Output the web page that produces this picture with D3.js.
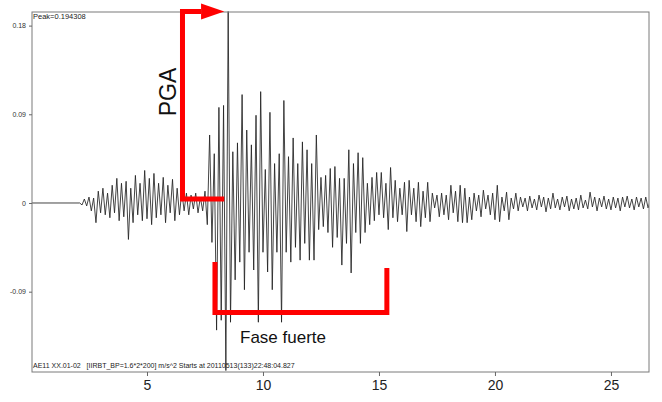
<!DOCTYPE html>
<html><head><meta charset="utf-8">
<script src="https://cdn.jsdelivr.net/npm/d3@7"></script>
<style>body{margin:0;background:#fff}svg{display:block}text{font-family:"Liberation Sans",Arial,sans-serif}</style>
</head><body><svg id="c" width="662" height="402"></svg>
<script>
// ---- data ----
const xTicks = [5, 10, 15, 20, 25];
const yTicks = [0.18, 0.09, 0, -0.09];
const yTickLabels = ["0.18", "0.09", "0", "-0.09"];
const startTime = 2.1;      // s, first sample after the quiet lead-in
const sampleStep = 0.1;     // s between read-off samples
const accel = [
  0, -.002, .004, -.003, .006, -.008, .005, -.02, .012, -.01,
  .015, -.012, .01, -.015, .018, -.01, .025, -.018, .02, -.014,
  .022, -.037, .015, -.02, .028, -.012, .02, -.018, .033, -.016,
  .025, -.022, .03, -.015, .02, -.012, .026, -.02, .018, -.01,
  .024, -.018, .015, -.012, .012, -.008, .01, -.012, .008, -.006,
  .01, -.01, .006, -.008, .012, -.022, .069, -.04, .05, -.129,
  .097, -.119, .099, -.17, .1943, -.121, .052, -.078, .061, -.06,
  .11, -.088, .074, -.05, .059, -.068, .089, -.121, .113, -.05,
  .034, -.07, .092, -.088, .04, -.05, .05, -.121, .104, -.05,
  .047, -.06, .066, -.045, .04, -.058, .062, -.041, .054, -.058,
  .04, -.058, .069, -.027, .026, -.024, .028, -.03, .035, -.045,
  .037, -.035, .025, -.063, .025, -.041, .054, -.071, .04, -.03,
  .051, -.041, .046, -.03, .02, -.022, .026, -.018, .031, -.012,
  .031, -.015, .02, -.027, .036, -.015, .023, -.019, .015, -.012,
  .021, -.029, .023, -.012, .015, -.019, .021, -.024, .012, -.015,
  .021, -.019, .01, -.005, .008, -.014, .01, -.012, .008, -.017,
  .018, -.01, .012, -.019, .018, -.02, .015, -.02, .006, -.017,
  .01, -.008, .008, -.014, .013, -.006, .008, -.012, .01, -.017,
  .018, -.019, .006, -.008, .011, -.017, .005, -.006, .01, -.008,
  .006, -.004, .005, -.008, .007, -.005, .004, -.007, .008, -.004,
  .006, -.009, .005, -.006, .010, -.005, .004, -.007, .006, -.004,
  .007, -.008, .004, -.006, .005, -.007, .008, -.005, .003, -.006,
  .011, -.004, .006, -.008, .005, -.004, .007, -.006, .004, -.007,
  .006, -.005, .005, -.008, .006, -.004, .007, -.005, .004, -.007,
  .006, -.004, .005, -.006, .006, -.005, .003, -.001
];
const peakLabel = "Peak=0.194308";
const infoLabel = "AE11 XX.01-02   [IIRBT_BP=1.6*2*200] m/s^2 Starts at 20110513(133)22:48:04.827";
const pgaLabel = "PGA";
const strongLabel = "Fase fuerte";
// annotation anchors in data units (time s, acceleration)
const pgaBracket = {t: 6.53, tTip: 8.33, tHead: 7.33, top: 0.1943, base: 0.004};
const pgaText = {t: 5.9, a: 0.1126};
const strongBracket = {t0: 7.93, t1: 15.34, bottom: -0.111, top0: -0.0599, top1: -0.066};
const strongText = {t: 9.01, a: -0.142};

// ---- layout ----
const L = 32, R = 649, T = 12, B = 372;
const svg = d3.select("#c");
const x = d3.scaleLinear().domain([0.043, 26.64]).range([L, R]);
const y = d3.scaleLinear().domain([-0.1715, 0.1938]).range([B, T]);

svg.append("clipPath").attr("id", "clip").append("rect")
  .attr("x", L).attr("y", T - 1).attr("width", R - L).attr("height", B - T + 1);

// waveform
const pts = [[x.domain()[0], 0]].concat(accel.map((v, i) => [startTime + i * sampleStep, v]));
svg.append("path").datum(pts)
  .attr("clip-path", "url(#clip)")
  .attr("fill", "none").attr("stroke", "#222").attr("stroke-width", 0.85)
  .attr("stroke-linejoin", "round")
  .attr("d", d3.line().x(d => x(d[0])).y(d => y(d[1])));

// frame
svg.append("rect").attr("x", L).attr("y", T).attr("width", R - L).attr("height", B - T)
  .attr("fill", "none").attr("stroke", "#7a7a7a").attr("stroke-width", 1);

// axes
const ya = svg.append("g").attr("transform", `translate(${L},0)`)
  .call(d3.axisLeft(y).tickValues(yTicks).tickFormat((d, i) => yTickLabels[i]).tickSize(3).tickPadding(3));
ya.select(".domain").remove();
ya.selectAll("line").attr("stroke", "#666");
ya.selectAll("text").attr("font-size", 7).attr("fill", "#333").attr("font-family", '"Liberation Sans",Arial,sans-serif');

const xa = svg.append("g").attr("transform", `translate(0,${B})`)
  .call(d3.axisBottom(x).tickValues(xTicks).tickFormat(d3.format("d")).tickSize(4).tickPadding(4));
xa.select(".domain").remove();
xa.selectAll("line").attr("stroke", "#666");
xa.selectAll("text").attr("font-size", 14).attr("fill", "#222").attr("font-family", '"Liberation Sans",Arial,sans-serif');

// labels inside plot
svg.append("text").attr("x", L + 1).attr("y", T + 6.5).attr("font-size", 7.5).attr("fill", "#222").text(peakLabel);
svg.append("text").attr("x", L + 1).attr("y", B - 4).attr("font-size", 7).attr("fill", "#222")
  .style("white-space", "pre").attr("xml:space", "preserve").text(infoLabel);

// PGA annotation
const red = "#ff0000";
svg.append("path")
  .attr("fill", "none").attr("stroke", red).attr("stroke-width", 5).attr("stroke-linejoin", "miter")
  .attr("d", d3.line()([[x(pgaBracket.tHead), y(pgaBracket.top)], [x(pgaBracket.t), y(pgaBracket.top)],
                        [x(pgaBracket.t), y(pgaBracket.base)], [x(pgaBracket.tTip), y(pgaBracket.base)]]));
svg.append("path").attr("fill", red)
  .attr("d", d3.line()([[x(pgaBracket.tHead), y(pgaBracket.top) - 8], [x(pgaBracket.tTip), y(pgaBracket.top)],
                        [x(pgaBracket.tHead), y(pgaBracket.top) + 8]]) + "Z");
svg.append("text")
  .attr("transform", `translate(${x(pgaText.t)},${y(pgaText.a)}) rotate(-90)`)
  .attr("text-anchor", "middle").attr("dy", "0.36em")
  .attr("font-size", 23).attr("fill", "#111").text(pgaLabel);

// strong-motion phase annotation
svg.append("path")
  .attr("fill", "none").attr("stroke", red).attr("stroke-width", 5).attr("stroke-linejoin", "miter")
  .attr("d", d3.line()([[x(strongBracket.t0), y(strongBracket.top0)], [x(strongBracket.t0), y(strongBracket.bottom)],
                        [x(strongBracket.t1), y(strongBracket.bottom)], [x(strongBracket.t1), y(strongBracket.top1)]]));
svg.append("text").attr("x", x(strongText.t)).attr("y", y(strongText.a))
  .attr("font-size", 17).attr("fill", "#111").text(strongLabel);
</script></body></html>
